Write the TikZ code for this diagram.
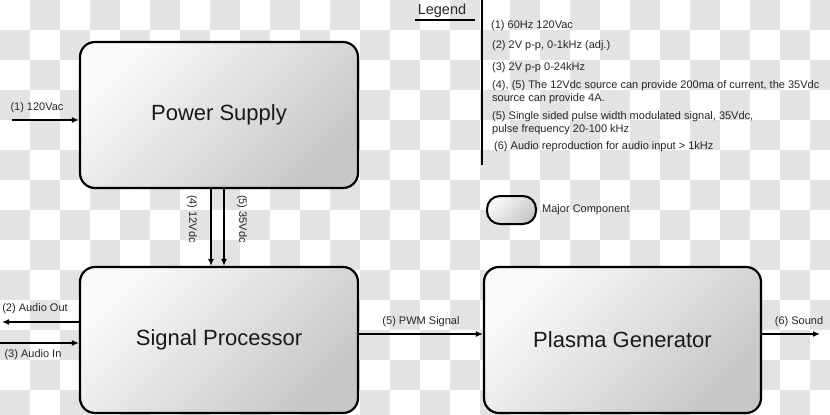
\documentclass[tikz,border=0pt]{standalone}
\usepackage{fontspec}
\setmainfont{Liberation Sans}
\usetikzlibrary{arrows.meta,positioning}

\begin{document}
\begin{tikzpicture}[x=1pt,y=-1pt]
\tikzstyle{block}=[draw,line width=2.2pt,rounded corners=15pt,top color=black!2,bottom color=black!22,shading angle=45,minimum width=278pt,minimum height=146pt,font=\fontsize{22}{26}\selectfont,text=black!90];
\tikzstyle{wire}=[line width=2pt,-{Latex[length=7pt,width=6pt]}];
\tikzstyle{lbl}=[font=\fontsize{11}{13}\selectfont,inner sep=0pt,text=black!85,align=left];
\tikzstyle{checker}=[fill=black!11];
\useasboundingbox (0,0) rectangle (830,415);
\begin{scope}
\clip (0,0) rectangle (830,415);
\fill[white] (0,0) rectangle (830,415);
\foreach \i in {0,...,27}
  \foreach \j in {0,...,13}
    {\ifodd\numexpr\i+\j\relax \fill[checker] (\i*30,\j*30) rectangle ++(30,30);\fi}
\end{scope}

\node[block] (power) at (219,115) {Power Supply};
\node[block] (sigproc) at (219,340) {Signal Processor};
\node[block,minimum width=277pt] (plasma) at (622.5,340) {Plasma Generator};

\coordinate (acin) at (12,120);
\draw[wire] (acin) -- (power.west |- acin);
\node[lbl] (acinlbl) at (37,108) {(1) 120Vac};

\draw[wire] ([xshift=-8pt]power.south) -- ([xshift=-8pt]sigproc.north);
\draw[wire] ([xshift=5pt]power.south) -- ([xshift=5pt]sigproc.north);
\node[lbl,rotate=-90] (v12lbl) at (192,219) {(4) 12Vdc};
\node[lbl,rotate=-90] (v35lbl) at (242,219) {(5) 35Vdc};

\coordinate (aout) at (2,322);
\coordinate (ain) at (0,343);
\draw[wire] (sigproc.west |- aout) -- (aout);
\draw[wire] (ain) -- (sigproc.west |- ain);
\node[lbl] (aoutlbl) at (35,309) {(2) Audio Out};
\node[lbl] (ainlbl) at (33,355) {(3) Audio In};

\coordinate (pwm) at (420,334);
\draw[wire] (sigproc.east |- pwm) -- (plasma.west |- pwm);
\node[lbl] (pwmlbl) at (421,322) {(5) PWM Signal};
\coordinate (sound) at (820,334);
\draw[wire] (plasma.east |- sound) -- (sound);
\node[lbl] (soundlbl) at (799,322) {(6) Sound};

\node[inner sep=0pt,font=\fontsize{14.5}{16}\selectfont,text=black!85] (legend) at (442,11) {Legend};
\draw[line width=1.4pt] (415,20) -- (475,20);
\draw[line width=2.4pt] (482,0) -- (482,165);
\node[lbl,anchor=west] (note1) at (491,26) {(1) 60Hz 120Vac};
\node[lbl,anchor=west] (note2) at (492,46) {(2) 2V p-p, 0-1kHz (adj.)};
\node[lbl,anchor=west] (note3) at (492,68) {(3) 2V p-p 0-24kHz};
\node[lbl,anchor=west] (note4) at (492,92.5) {(4), (5) The 12Vdc source can provide 200ma of current, the 35Vdc\\source can provide 4A.};
\node[lbl,anchor=west] (note5) at (492,123.5) {(5) Single sided pulse width modulated signal, 35Vdc,\\pulse frequency 20-100 kHz};
\node[lbl,anchor=west] (note6) at (494,147) {(6) Audio reproduction for audio input > 1kHz};

\node[draw,line width=2pt,rounded corners=13pt,top color=black!2,bottom color=black!22,shading angle=45,minimum width=49pt,minimum height=28pt] (pill) at (511.5,210) {};
\node[lbl,right=5pt of pill] (pilllbl) {Major Component};
\end{tikzpicture}
\end{document}
